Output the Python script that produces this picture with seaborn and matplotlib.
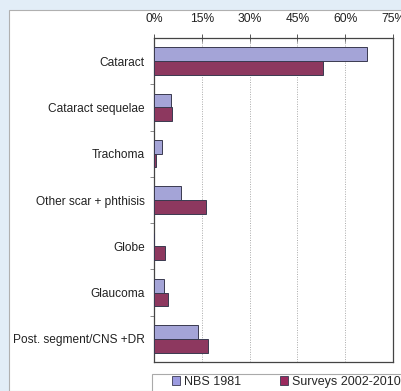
import matplotlib
matplotlib.use("Agg")
import matplotlib.pyplot as plt
from matplotlib.patches import Rectangle, Patch
from matplotlib.ticker import PercentFormatter
import pandas as pd
import seaborn as sns

# Causes of blindness, share of cases (%)
causes = ["Cataract", "Cataract sequelae", "Trachoma", "Other scar + phthisis",
          "Globe", "Glaucoma", "Post. segment/CNS +DR"]
nbs_1981 = [66.8, 5.2, 2.4, 8.4, 0.0, 3.1, 13.9]
surveys_2002_2010 = [53.0, 5.7, 0.5, 16.2, 3.4, 4.3, 17.0]
series_names = ["NBS 1981", "Surveys 2002-2010"]
x_ticks = [0, 15, 30, 45, 60, 75]

df = pd.DataFrame({
    "cause": causes * 2,
    "pct": nbs_1981 + surveys_2002_2010,
    "series": [series_names[0]] * len(causes) + [series_names[1]] * len(causes),
})

sns.set_theme(style="white")
plt.rcParams["font.family"] = ["Liberation Sans", "DejaVu Sans"]

colors = {"NBS 1981": "#9c9be0", "Surveys 2002-2010": "#9b2a5e"}

fig = plt.figure(figsize=(4.02, 3.91), dpi=100)
fig.patch.set_facecolor("#e2edf7")
# white panel behind the chart
fig.add_artist(Rectangle((9 / 402, 0), 1, 1 - 10 / 391, transform=fig.transFigure,
                         facecolor="white", edgecolor="#b0b0b0", lw=0.8, zorder=0))

ax = fig.add_axes([154 / 402, 1 - 362 / 391, 239 / 402, (362 - 38) / 391])
ax.set_facecolor("white")
sns.barplot(data=df, y="cause", x="pct", hue="series", palette=colors,
            orient="h", width=0.59, edgecolor="#3a3a50", linewidth=0.7,
            legend=False, ax=ax, zorder=3)

ax.set_xlim(0, 75)
ax.set_ylim(len(causes) - 0.5, -0.5)
ax.set_xticks(x_ticks)
ax.xaxis.set_major_formatter(PercentFormatter(decimals=0))
ax.xaxis.tick_top()
ax.set_xlabel("")
ax.set_ylabel("")
ax.tick_params(axis="x", which="both", top=True, bottom=False, direction="inout",
               length=6, width=0.7, color="#555555", labelsize=8.7, pad=6,
               labelcolor="#222222")
ax.tick_params(axis="y", left=False, labelsize=8.6, pad=0.5, labelcolor="#222222")
# small ticks between categories on the left spine
ax.set_yticks([i + 0.5 for i in range(len(causes) - 1)], minor=True)
ax.tick_params(axis="y", which="minor", left=True, direction="out", length=3,
               width=0.6, color="#777777")
for v in x_ticks[1:-1]:
    ax.axvline(v, color="#aaaaaa", lw=0.7, ls=(0, (1, 1.5)), zorder=1)
for s in ax.spines.values():
    s.set_visible(True)
    s.set_color("#444444")
    s.set_linewidth(0.9)

# legend box along the bottom
fig.add_artist(Rectangle((152 / 402, -0.05), 1, 0.05 + (391 - 374) / 391,
                         transform=fig.transFigure, facecolor="white",
                         edgecolor="#aaaaaa", lw=0.8, zorder=1))
handles = [Patch(facecolor=colors[n], edgecolor="#3a3a50", lw=0.6) for n in series_names]
fig.legend(handles, series_names, loc="center left", ncol=2,
           bbox_to_anchor=(172 / 402, 1 - 382 / 391), frameon=False,
           handlelength=0.65, handleheight=0.65, handletextpad=0.3,
           columnspacing=3.1, fontsize=9, borderaxespad=0, borderpad=0)

fig.savefig("out.png", dpi=100, facecolor=fig.get_facecolor())
